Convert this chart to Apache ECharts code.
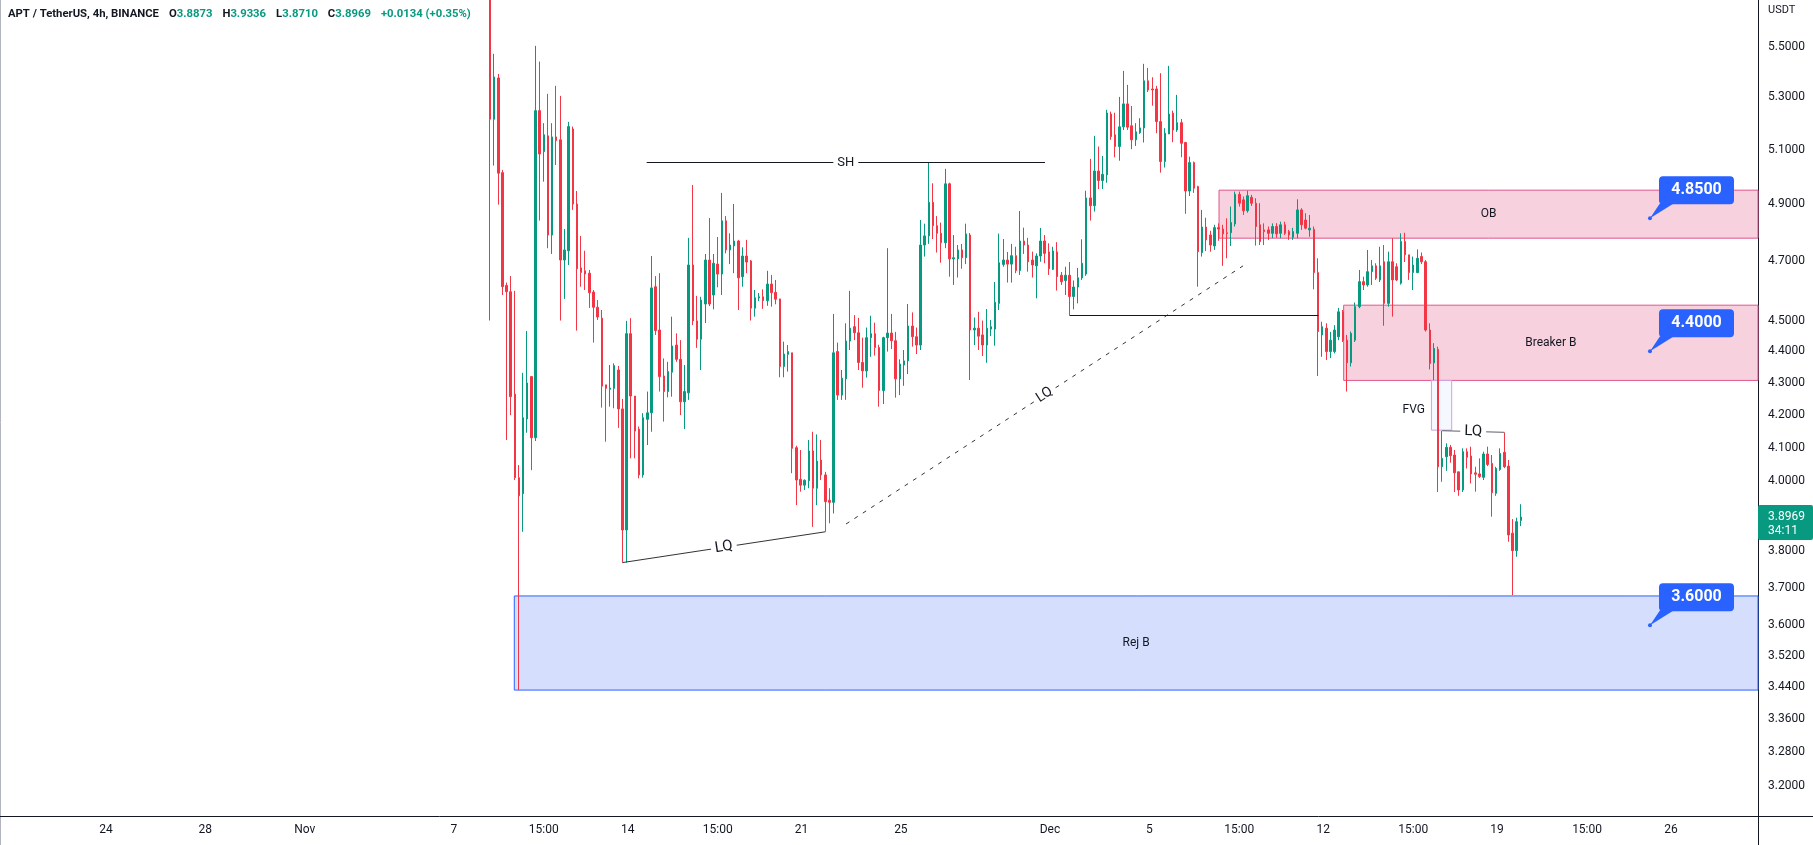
<!DOCTYPE html>
<html><head><meta charset="utf-8">
<script src="https://cdn.jsdelivr.net/npm/echarts@6/dist/echarts.min.js"></script>
<style>html,body{margin:0;padding:0;background:#fff;overflow:hidden}#c{width:1813px;height:845px}</style>
</head><body><div id="c"></div>
<script>
// ---------------- data ----------------
const symbolTitle = 'APT / TetherUS, 4h, BINANCE';
const quoteCurrency = 'USDT';
const firstCandle = '2022-11-08 11:00';
const candleHours = 4;

const openP = [6.05,5.215,5.375,5.015,4.617,4.596,4.264,4.011,3.964,4.187,4.319,4.130,5.248,5.093,5.152,4.791,5.148,5.137,4.704,4.736,
5.178,4.901,4.677,4.667,4.659,4.595,4.544,4.508,4.293,4.279,4.282,4.340,4.218,3.860,4.457,4.258,4.156,4.019,4.186,4.206,
4.613,4.469,4.321,4.272,4.333,4.420,4.374,4.240,4.268,4.687,4.499,4.439,4.555,4.704,4.585,4.690,4.656,4.841,4.739,4.753,
4.770,4.647,4.718,4.701,4.541,4.575,4.579,4.566,4.622,4.594,4.572,4.351,4.390,4.395,4.100,4.006,3.989,4.002,4.090,3.980,
4.063,4.019,3.945,3.939,4.399,4.261,4.312,4.433,4.480,4.460,4.364,4.337,4.444,4.457,4.412,4.275,4.444,4.459,4.434,4.312,
4.356,4.369,4.482,4.447,4.420,4.756,4.788,4.907,4.824,4.797,4.764,4.974,4.708,4.708,4.739,4.712,4.791,4.469,4.475,4.453,
4.420,4.472,4.472,4.557,4.689,4.704,4.690,4.719,4.668,4.770,4.756,4.704,4.684,4.718,4.770,4.732,4.672,4.732,4.652,4.634,
4.652,4.580,4.612,4.643,4.656,4.923,4.895,5.021,4.986,5.007,5.235,5.156,5.112,5.186,5.274,5.190,5.137,5.164,5.182,5.364,
5.332,5.332,5.206,5.056,5.159,5.238,5.174,5.202,5.127,4.948,5.052,4.964,4.730,4.819,4.791,4.753,4.817,4.812,4.799,4.799,
4.830,4.936,4.916,4.877,4.925,4.904,4.827,4.809,4.809,4.797,4.821,4.797,4.827,4.803,4.783,4.797,4.880,4.844,4.809,4.811,
4.661,4.453,4.475,4.399,4.399,4.447,4.529,4.436,4.363,4.436,4.546,4.630,4.619,4.664,4.684,4.636,4.698,4.557,4.698,4.681,
4.625,4.768,4.722,4.661,4.661,4.716,4.698,4.469,4.363,4.406,4.043,4.073,4.101,4.078,4.028,3.975,4.088,4.075,4.025,4.022,
4.012,4.081,4.053,3.965,4.035,4.086,4.045,3.851,3.802,3.8873];
const closeP = [5.215,5.379,5.013,4.613,4.596,4.256,4.011,3.958,4.191,4.299,4.130,5.248,5.084,5.156,4.791,5.148,5.134,4.704,4.739,5.187,
4.901,4.674,4.661,4.656,4.593,4.544,4.512,4.289,4.282,4.283,4.354,4.218,3.860,4.457,4.258,4.150,4.019,4.191,4.206,4.609,
4.467,4.319,4.272,4.335,4.417,4.374,4.240,4.272,4.687,4.499,4.439,4.568,4.704,4.555,4.693,4.656,4.841,4.739,4.756,4.770,
4.643,4.718,4.697,4.541,4.576,4.579,4.566,4.622,4.593,4.571,4.351,4.391,4.399,4.098,4.004,3.989,4.003,4.090,3.980,4.060,
4.019,3.941,3.939,4.395,4.261,4.314,4.433,4.475,4.460,4.364,4.337,4.444,4.457,4.412,4.275,4.444,4.459,4.434,4.312,4.359,
4.369,4.482,4.447,4.420,4.756,4.788,4.907,4.824,4.797,4.764,4.974,4.708,4.712,4.739,4.712,4.795,4.469,4.475,4.449,4.420,
4.475,4.480,4.561,4.695,4.704,4.690,4.719,4.668,4.770,4.756,4.698,4.687,4.718,4.770,4.727,4.674,4.735,4.647,4.630,4.652,
4.580,4.612,4.643,4.693,4.923,4.895,5.021,4.986,5.009,5.239,5.149,5.112,5.186,5.274,5.185,5.137,5.167,5.182,5.364,5.328,
5.328,5.206,5.056,5.162,5.235,5.174,5.202,5.124,4.948,5.052,4.958,4.733,4.819,4.774,4.756,4.817,4.812,4.795,4.796,4.835,
4.936,4.904,4.877,4.931,4.904,4.821,4.768,4.803,4.797,4.821,4.795,4.827,4.797,4.791,4.803,4.880,4.827,4.815,4.815,4.661,
4.464,4.480,4.399,4.436,4.469,4.529,4.436,4.363,4.458,4.546,4.630,4.619,4.664,4.684,4.642,4.684,4.557,4.698,4.636,4.636,
4.768,4.722,4.661,4.687,4.710,4.698,4.469,4.361,4.409,4.043,4.068,4.101,4.076,4.025,3.975,4.088,4.071,4.022,4.021,4.014,
4.081,4.050,3.967,4.038,4.083,4.043,3.846,3.802,3.8835,3.8969];
const lowP = [4.500,5.041,4.899,4.585,4.123,4.199,4.004,3.433,3.855,4.145,4.033,4.120,4.842,4.982,4.745,4.725,5.043,4.500,4.572,4.687,
4.880,4.467,4.613,4.602,4.542,4.428,4.502,4.222,4.118,4.225,4.220,4.160,3.769,3.769,4.068,4.068,4.009,4.011,4.108,4.148,
4.453,4.272,4.179,4.254,4.256,4.366,4.199,4.156,4.246,4.485,4.411,4.340,4.492,4.548,4.537,4.611,4.585,4.727,4.690,4.659,
4.535,4.613,4.659,4.500,4.513,4.565,4.539,4.549,4.546,4.554,4.317,4.317,4.335,4.024,3.931,3.970,3.975,3.980,3.869,3.931,
4.004,3.855,3.879,3.907,4.246,4.246,4.246,4.404,4.436,4.340,4.284,4.316,4.382,4.386,4.225,4.233,4.399,4.407,4.253,4.261,
4.290,4.327,4.415,4.391,4.404,4.716,4.760,4.777,4.730,4.695,4.745,4.647,4.619,4.644,4.674,4.690,4.308,4.420,4.404,4.385,
4.363,4.449,4.418,4.535,4.681,4.627,4.627,4.659,4.653,4.725,4.664,4.644,4.574,4.698,4.693,4.653,4.670,4.600,4.619,4.585,
4.5175,4.537,4.557,4.636,4.650,4.842,4.874,4.955,4.955,4.978,5.137,5.072,5.059,5.174,5.174,5.102,5.114,5.159,5.127,5.320,
5.267,5.162,5.015,5.034,5.159,5.128,5.167,5.072,4.866,4.930,4.941,4.613,4.716,4.735,4.733,4.739,4.771,4.684,4.710,4.753,
4.821,4.892,4.862,4.870,4.894,4.754,4.756,4.756,4.774,4.780,4.781,4.780,4.791,4.774,4.774,4.780,4.809,4.811,4.785,4.604,
4.321,4.382,4.372,4.378,4.393,4.436,4.430,4.272,4.351,4.430,4.541,4.602,4.613,4.619,4.636,4.629,4.483,4.546,4.513,4.632,
4.620,4.697,4.636,4.602,4.659,4.690,4.464,4.342,4.308,3.969,3.999,4.031,4.055,3.969,3.958,3.969,4.038,3.994,3.970,4.010,
4.004,4.045,3.898,3.958,4.031,4.039,3.827,3.680,3.785,3.8710];
const highP = [6.20,5.471,5.391,5.025,4.627,4.649,4.599,4.048,4.331,4.466,4.321,5.503,5.440,5.200,5.313,5.200,5.344,5.305,4.812,5.205,
5.187,4.948,4.788,4.736,4.670,4.602,4.568,4.535,4.293,4.356,4.361,4.353,4.249,4.499,4.508,4.258,4.164,4.205,4.272,4.718,
4.649,4.659,4.377,4.366,4.513,4.458,4.436,4.356,4.781,4.970,4.582,4.579,4.725,4.851,4.725,4.784,4.941,4.858,4.797,4.901,
4.774,4.748,4.774,4.704,4.602,4.592,4.604,4.667,4.653,4.636,4.572,4.431,4.420,4.395,4.106,4.093,4.006,4.123,4.148,4.140,
4.123,4.028,3.980,4.522,4.428,4.340,4.491,4.599,4.518,4.509,4.444,4.477,4.516,4.493,4.421,4.447,4.745,4.522,4.463,4.374,
4.404,4.555,4.527,4.477,4.844,4.831,5.053,4.976,4.858,4.835,5.029,4.978,4.791,4.756,4.760,4.831,4.798,4.510,4.529,4.500,
4.538,4.502,4.629,4.796,4.777,4.732,4.760,4.750,4.876,4.817,4.781,4.733,4.727,4.816,4.791,4.762,4.750,4.766,4.663,4.681,
4.697,4.634,4.677,4.776,4.949,5.066,5.152,5.112,5.077,5.251,5.244,5.240,5.301,5.403,5.348,5.266,5.200,5.219,5.431,5.415,
5.378,5.344,5.394,5.181,5.423,5.248,5.309,5.216,5.129,5.074,5.056,4.967,4.880,4.852,4.806,4.827,4.832,4.827,4.850,4.892,
4.946,4.946,4.928,4.949,4.934,4.922,4.904,4.832,4.821,4.832,4.833,4.838,4.838,4.809,4.816,4.918,4.886,4.868,4.862,4.821,
4.710,4.496,4.491,4.463,4.485,4.542,4.535,4.453,4.464,4.560,4.670,4.647,4.739,4.704,4.693,4.750,4.756,4.733,4.780,4.693,
4.797,4.799,4.722,4.716,4.741,4.730,4.704,4.491,4.426,4.415,4.151,4.113,4.108,4.093,4.028,4.098,4.098,4.103,4.043,4.068,
4.088,4.103,4.078,4.043,4.098,4.146,4.063,3.891,3.895,3.9336];

const priceTicks = [5.5,5.3,5.1,4.9,4.7,4.5,4.4,4.3,4.2,4.1,4.0,3.8,3.7,3.6,3.52,3.44,3.36,3.28,3.2];
const timeTickDates = ['2022-10-24 00:00','2022-10-28 00:00','2022-11-01 00:00','2022-11-07 00:00','2022-11-10 15:00','2022-11-14 00:00',
  '2022-11-17 15:00','2022-11-21 00:00','2022-11-25 00:00','2022-12-01 00:00','2022-12-05 00:00','2022-12-08 15:00','2022-12-12 00:00',
  '2022-12-15 15:00','2022-12-19 00:00','2022-12-22 15:00','2022-12-26 00:00'];
const timeTickLabels = ['24','28','Nov','7','15:00','14','15:00','21','25','Dec','5','15:00','12','15:00','19','15:00','26'];
const timeRange = ['2022-10-19 17:35','2022-12-29 12:09'];
const priceRange = [3.1305, 5.691];

// zones
const zoneNames   = ['OB','Breaker B','Rej B'];
const zoneFrom    = [176.1, 206.2, 5.87];
const zoneTop     = [4.951, 4.551, 3.678];
const zoneBottom  = [4.780, 4.307, 3.433];
const fvgRange    = [227.4, 232.3, 4.307, 4.153];
// lines: [fromCandle, fromPrice, toCandle, toPrice]
const shLine      = [37.85, 5.053, 134.06, 5.053];
const lqLowLine   = [32, 3.769, 81, 3.855];
const lqTrendLine = [86.0, 3.877, 181.9, 4.684];
const breakLine   = [140, 4.5175, 200.1, 4.5175];
const lqHighLine  = [230, 4.1512, 245, 4.1464];
const calloutCandle = 280.2;
const calloutPrices = [4.85, 4.40, 3.60];
const countdown = '34:11';

// ---------------- helpers ----------------
function parseT(s){const [d,h]=s.split(' ');const [Y,M,D]=d.split('-').map(Number);const [hh,mm]=h.split(':').map(Number);return Date.UTC(Y,M-1,D,hh,mm);}
const T0 = parseT(firstCandle), STEP = candleHours*3600*1000;
const tAt = i => T0 + i*STEP;
const xMin = parseT(timeRange[0]), xMax = parseT(timeRange[1]);
const tickTimes = timeTickDates.map(parseT);
function tickLabel(v){ let best=-1, bd=Infinity; tickTimes.forEach((t,i)=>{const d=Math.abs(t-v); if(d<bd){bd=d;best=i;}}); return bd<60000? timeTickLabels[best] : ''; }

const UP='#089981', DOWN='#F23645';
const FONT='Roboto, "Noto Sans", sans-serif';
const candles = openP.map((o,i)=>[tAt(i), o, closeP[i], lowP[i], highP[i]]);
const n = openP.length;
const lastO=openP[n-1], lastH=highP[n-1], lastL=lowP[n-1], lastC=closeP[n-1], prevC=closeP[n-2];
const chg = lastC-prevC, pct = chg/prevC*100;
const sgn = v => (v>=0?'+':'');

function seg(a, color, type, label, fs){
  return [{coord:[tAt(a[0]),a[1]], lineStyle:{color, width:1, type},
           label: label?{show:true, formatter:label, position:'insideMiddle', distance:0, color:'#131722', fontSize:fs||13, fontFamily:FONT, backgroundColor:'#ffffff', padding:[1,4]}:{show:false}},
          {coord:[tAt(a[2]),a[3]]}];
}

const pinkFill='#f8d1de', pinkBorder='#e0568b';
const zoneStyles = [
  {color:pinkFill,borderColor:pinkBorder},
  {color:pinkFill,borderColor:pinkBorder},
  {color:'#d5dffd',borderColor:'#2962ff'}
];
const markAreaData = zoneNames.map((nm,k)=>[
  {name:nm, coord:[tAt(zoneFrom[k]), zoneTop[k]], itemStyle:{color:zoneStyles[k].color, borderColor:zoneStyles[k].borderColor, borderWidth:1, opacity:1},
   label:{show:true, position:'inside', color:'#131722', fontSize:12, fontFamily:FONT}},
  {coord:[xMax, zoneBottom[k]]}
]);
markAreaData.push([
  {name:'FVG', coord:[tAt(fvgRange[0]), fvgRange[2]], itemStyle:{color:'#f6f8ff', borderColor:'#d0a0e0', borderWidth:1, opacity:1},
   label:{show:true, position:'left', distance:6, offset:[0,5], color:'#131722', fontSize:12, fontFamily:FONT}},
  {coord:[tAt(fvgRange[1]), fvgRange[3]]}
]);

const option = {
  animation:false,
  backgroundColor:'#ffffff',
  title:{
    left:8, top:5, padding:0,
    text:`{n|${symbolTitle}}  {n|O}{v|${lastO.toFixed(4)}}  {n|H}{v|${lastH.toFixed(4)}}  {n|L}{v|${lastL.toFixed(4)}}  {n|C}{v|${lastC.toFixed(4)}}  {v|${sgn(chg)}${chg.toFixed(4)} (${sgn(pct)}${pct.toFixed(2)}%)}`,
    textStyle:{rich:{n:{color:'#131722',fontSize:11.3,fontFamily:FONT,lineHeight:15},v:{color:UP,fontSize:11.3,fontFamily:FONT,lineHeight:15}}}
  },
  grid:{left:0, top:0, right:55, bottom:29, containLabel:false},
  xAxis:{
    type:'value', min:xMin, max:xMax, scale:true,
    axisLine:{show:true, lineStyle:{color:'#131722', width:1}},
    axisTick:{show:false},
    splitLine:{show:false},
    axisLabel:{customValues:tickTimes, formatter:(v)=>tickLabel(v), color:'#131722', fontSize:12, fontFamily:FONT, margin:8, hideOverlap:false}
  },
  yAxis:{
    type:'log', position:'right', min:priceRange[0], max:priceRange[1],
    axisLine:{show:true, lineStyle:{color:'#131722', width:1}},
    axisTick:{show:false},
    splitLine:{show:false},
    axisLabel:{customValues:priceTicks, formatter:(v)=>Number(v).toFixed(4), color:'#131722', fontSize:12, fontFamily:FONT, margin:10, align:'left'}
  },
  series:[
    {
      type:'candlestick', name:'APT', data:candles, encode:{x:0, y:[1,2,3,4]},
      barWidth:2, clip:true,
      itemStyle:{color:UP, color0:DOWN, borderColor:UP, borderColor0:DOWN, borderWidth:1},
      markArea:{silent:true, data:markAreaData},
      markLine:{silent:true, symbol:['none','none'], animation:false,
        data:[
          seg(shLine,'#131722','solid','SH',13),
          seg(lqLowLine,'#333333','solid','LQ',15),
          seg(lqTrendLine,'#333333',[4,6],'LQ',14),
          seg(breakLine,'#131722','solid',null),
          seg(lqHighLine,'#5d606b','solid','LQ',15)
        ]}
    },
    {
      type:'custom', name:'callouts', data:calloutPrices.map(p=>[tAt(calloutCandle), p]), encode:{x:0,y:1},
      renderItem:(params, api)=>{
        const p = api.coord([api.value(0), api.value(1)]); const x0=p[0], y0=p[1];
        const c='#2962ff';
        return {type:'group', children:[
          {type:'polygon', shape:{points:[[x0,y0],[x0+10,y0-15],[x0+24,y0-15]]}, style:{fill:c}},
          {type:'circle', shape:{cx:x0, cy:y0, r:2}, style:{fill:c}},
          {type:'rect', shape:{x:x0+9, y:y0-42, width:75, height:28, r:4}, style:{fill:c}},
          {type:'text', style:{x:x0+46.5, y:y0-28, text:api.value(1).toFixed(4), fill:'#ffffff', font:`bold 16px ${FONT}`, align:'center', verticalAlign:'middle'}}
        ]};
      }
    },
    {
      type:'custom', name:'lastPrice', data:[[tAt(n-1), lastC]], encode:{x:0,y:1},
      renderItem:(params, api)=>{
        const y = api.coord([api.value(0), api.value(1)])[1];
        const cs = params.coordSys; const x = cs.x + cs.width;
        return {type:'group', children:[
          {type:'rect', shape:{x:x, y:y-12, width:55, height:35, r:2}, style:{fill:UP}},
          {type:'text', style:{x:x+10, y:y, text:api.value(1).toFixed(4), fill:'#fff', font:`12px ${FONT}`, verticalAlign:'middle'}},
          {type:'text', style:{x:x+10, y:y+14, text:countdown, fill:'#fff', font:`12px ${FONT}`, verticalAlign:'middle'}}
        ]};
      }
    }
  ],
  graphic:[
    {type:'text', left:1768, top:5, style:{text:quoteCurrency, fill:'#131722', font:`11px ${FONT}`}},
    {type:'line', shape:{x1:1758.5, y1:816, x2:1758.5, y2:845}, style:{stroke:'#131722', lineWidth:1}},
    {type:'line', shape:{x1:1758, y1:816.5, x2:1813, y2:816.5}, style:{stroke:'#131722', lineWidth:1}},
    {type:'line', shape:{x1:0.5, y1:0, x2:0.5, y2:845}, style:{stroke:'#b2b5be', lineWidth:1}}
  ]
};
const chart = echarts.init(document.getElementById('c'), null, {renderer:'canvas'});
chart.setOption(option);
</script>
</body></html>
